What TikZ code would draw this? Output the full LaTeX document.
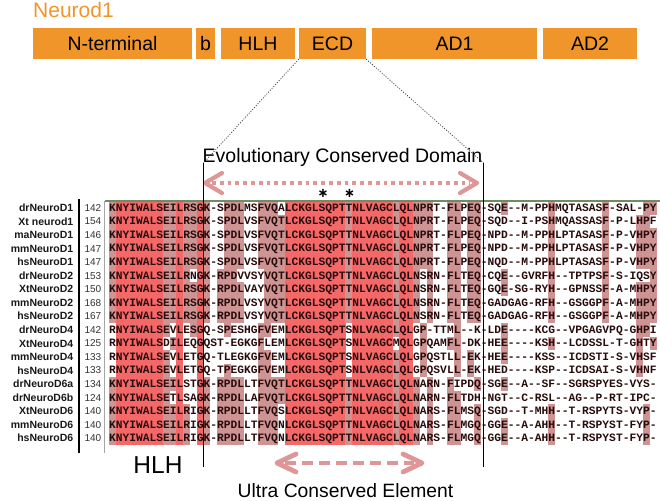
\documentclass[tikz,border=0pt]{standalone}
\usepackage{fontspec}
\setmainfont{Liberation Sans}
\setmonofont{Liberation Mono}
\newfontfamily\symfont{DejaVu Sans}
\definecolor{orangebox}{RGB}{240,149,42}
\definecolor{alred}{RGB}{245,104,104}
\definecolor{alrose}{RGB}{206,148,148}
\definecolor{arrpink}{RGB}{222,150,150}
\definecolor{gridgreen}{RGB}{110,140,100}
\definecolor{seqink}{RGB}{40,12,12}

\ExplSyntaxOn
\int_new:N \l__al_cnt_int
\tl_new:N \l__al_a_tl
\tl_new:N \l__al_b_tl
\tl_new:N \l__al_x_tl
\tl_new:N \l__al_y_tl
\cs_new_protected:Npn \alDefRow #1#2 { \tl_const:cn { c__al_row_#1_tl } {#2} }
\cs_new_protected:Npn \alShow #1 { \tl_map_inline:cn { c__al_row_#1_tl } { ##1 \kern 0pt } }
\cs_new_protected:Npn \__al_fill:nnn #1#2#3
  {
    \tl_set:Nx \l__al_x_tl { \fp_eval:n { 108.8 + (#2 - 1) * 6.76 } }
    \tl_set:Nx \l__al_y_tl { \fp_eval:n { 201 + (#1 - 1) * 13.55 } }
    \fill [#3] (\l__al_x_tl, \l__al_y_tl) rectangle ++ (6.96, 13.75) ;
  }
\cs_new_protected:Npn \__al_cell:nn #1#2
  {
    \tl_set:Nx \l__al_a_tl { \tl_item:cn { c__al_row_#1_tl } {#2} }
    \str_if_eq:VnF \l__al_a_tl { - }
      {
        \int_zero:N \l__al_cnt_int
        \int_step_inline:nn {18}
          {
            \tl_set:Nx \l__al_b_tl { \tl_item:cn { c__al_row_##1_tl } {#2} }
            \tl_if_eq:NNT \l__al_a_tl \l__al_b_tl { \int_incr:N \l__al_cnt_int }
          }
        \int_compare:nNnTF \l__al_cnt_int = {18}
          { \__al_fill:nnn {#1} {#2} {alred} }
          { \int_compare:nNnT \l__al_cnt_int > {8} { \__al_fill:nnn {#1} {#2} {alrose} } }
      }
  }
\cs_new_protected:Npn \alShade
  {
    \int_step_inline:nn {18}
      { \int_step_inline:nn {81} { \__al_cell:nn {##1} {####1} } }
  }
\ExplSyntaxOff

\alDefRow{1}{KNYIWALSEILRSGK-SPDLMSFVQALCKGLSQPTTNLVAGCLQLNPRT-FLPEQ-SQE--M-PPHMQTASASF-SAL-PY}
\alDefRow{2}{KNYIWALSEILRSGK-SPDLVSFVQTLCKGLSQPTTNLVAGCLQLNPRT-FLPEQ-SQD--I-PSHMQASSASF-P-LHPF}
\alDefRow{3}{KNYIWALSEILRSGK-SPDLVSFVQTLCKGLSQPTTNLVAGCLQLNPRT-FLPEQ-NPD--M-PPHLPTASASF-P-VHPY}
\alDefRow{4}{KNYIWALSEILRSGK-SPDLVSFVQTLCKGLSQPTTNLVAGCLQLNPRT-FLPEQ-NPD--M-PPHLPTASASF-P-VHPY}
\alDefRow{5}{KNYIWALSEILRSGK-SPDLVSFVQTLCKGLSQPTTNLVAGCLQLNPRT-FLPEQ-NQD--M-PPHLPTASASF-P-VHPY}
\alDefRow{6}{KNYIWALSEILRNGK-RPDVVSYVQTLCKGLSQPTTNLVAGCLQLNSRN-FLTEQ-CQE--GVRFH--TPTPSF-S-IQSY}
\alDefRow{7}{KNYIWALSEILRSGK-RPDLVAYVQTLCKGLSQPTTNLVAGCLQLNSRN-FLTEQ-GQE-SG-RYH--GPNSSF-A-MHPY}
\alDefRow{8}{KNYIWALSEILRSGK-RPDLVSYVQTLCKGLSQPTTNLVAGCLQLNSRN-FLTEQ-GADGAG-RFH--GSGGPF-A-MHPY}
\alDefRow{9}{KNYIWALSEILRSGK-RPDLVSYVQTLCKGLSQPTTNLVAGCLQLNSRN-FLTEQ-GADGAG-RFH--GSGGPF-A-MHPY}
\alDefRow{10}{RNYIWALSEVLESGQ-SPESHGFVEMLCKGLSQPTSNLVAGCLQLGP-TTML--K-LDE----KCG--VPGAGVPQ-GHPI}
\alDefRow{11}{RNYIWALSDILEQGQST-EGKGFLEMLCKGLSQPTSNLVAGCMQLGPQAMFL-DK-HEE----KSH--LCDSSL-T-GHTY}
\alDefRow{12}{RNYIWALSEVLETGQ-TLEGKGFVEMLCKGLSQPTSNLVAGCLQLGPQSTLL-EK-HEE----KSS--ICDSTI-S-VHSF}
\alDefRow{13}{RNYIWALSEVLETGQ-TPEGKGFVEMLCKGLSQPTSNLVAGCLQLGPQSVLL-EK-HED----KSP--ICDSAI-S-VHNF}
\alDefRow{14}{KNYIWALSEILSTGK-RPDLLTFVQTLCKGLSQPTTNLVAGCLQLNARN-FIPDQ-SGE--A--SF--SGRSPYES-VYS-}
\alDefRow{15}{KNYIWALSETLSAGK-RPDLLAFVQTLCKGLSQPTTNLVAGCLQLNARN-FLTDH-NGT--C-RSL--AG--P-RT-IPC-}
\alDefRow{16}{KNYIWALSEILRIGK-RPDLLTFVQSLCKGLSQPTTNLVAGCLQLNARS-FLMSQ-SGD--T-MHH--T-RSPYTS-VYP-}
\alDefRow{17}{KNYIWALSEILRIGK-RPDLLTFVQNLCKGLSQPTTNLVAGCLQLNARS-FLMGQ-GGE--A-AHH--T-RSPYST-FYP-}
\alDefRow{18}{KNYIWALSEILRIGK-RPDLLTFVQNLCKGLSQPTTNLVAGCLQLNARS-FLMGQ-GGE--A-AHH--T-RSPYST-FYP-}

\tikzset{
  dombox/.style={fill=orangebox, draw=none, minimum height=31pt, inner sep=0pt,
    font=\fontsize{19.5}{22}\selectfont, text=black},
  namelbl/.style={anchor=east, inner sep=0pt, font=\bfseries\fontsize{10.5}{12}\selectfont,
    text height=7.5pt, text depth=0pt, text=black!90},
  numlbl/.style={anchor=east, inner sep=0pt, font=\fontsize{10}{12}\selectfont,
    text height=7.2pt, text depth=0pt, text=black!80},
  seqtxt/.style={anchor=west, inner sep=0pt, font=\ttfamily\bfseries\fontsize{11.2667}{13}\selectfont,
    text height=7.1pt, text depth=0pt, text=seqink},
  biglbl/.style={anchor=base, inner sep=0pt, text=black},
  dotline/.style={draw=black!75, line width=0.8pt, dash pattern=on 1pt off 1.6pt},
  blackline/.style={draw=black, line width=1.2pt},
  pinkdots/.style={draw=arrpink, line width=3.8pt, dash pattern=on 3.8pt off 4pt},
  pinkdash/.style={draw=arrpink, line width=4.6pt, dash pattern=on 11pt off 6pt},
  pinkhead/.style={draw=arrpink, line width=4.2pt, line join=round, line cap=round},
  star/.style={anchor=base, inner sep=0pt, font=\symfont\bfseries\fontsize{13}{13}\selectfont, text=black}
}

\begin{document}
\begin{tikzpicture}[x=1pt,y=-1pt]
\useasboundingbox (0,0) rectangle (660,500);
\fill[white] (0,0) rectangle (660,500);

% title and domain bar
\node[anchor=base west, inner sep=0pt, text=orangebox, font=\fontsize{21}{24}\selectfont] (title) at (33,18) {Neurod1};
\node[dombox, minimum width=159pt] (nterm) at (112.5,43.5) {N-terminal};
\node[dombox, minimum width=19pt] (bdom) at (205.5,43.5) {b};
\node[dombox, minimum width=74pt] (hlhdom) at (258,43.5) {HLH};
\node[dombox, minimum width=67pt] (ecd) at (332.5,43.5) {ECD};
\node[dombox, minimum width=165pt] (ad1) at (454.5,43.5) {AD1};
\node[dombox, minimum width=94pt] (ad2) at (590,43.5) {AD2};

% zoom lines and bracket
\coordinate (lt) at (203.5,163);
\coordinate (lb) at (203.5,467);
\coordinate (rt) at (483.5,163);
\coordinate (rb) at (483.5,467);
\draw[dotline] (ecd.south west) -- (lt);
\draw[dotline] (ecd.south east) -- (rt);
\node[biglbl, font=\fontsize{19.5}{22}\selectfont] (ecdtitle) at (342.5,162.5) {Evolutionary Conserved Domain};

% top arrow
\coordinate (ta1) at (205,183);
\coordinate (ta2) at (477,183);
\draw[pinkdots] ([xshift=7pt]ta1) -- ([xshift=-7pt]ta2);
\draw[pinkhead] ([shift={(17,-10)}]ta1) -- (ta1) -- ([shift={(17,10)}]ta1);
\draw[pinkhead] ([shift={(-17,-10)}]ta2) -- (ta2) -- ([shift={(-17,10)}]ta2);

% asterisks
\node[star] (st1) at (323,197.3) {∗};
\node[star] (st2) at (349.5,197.3) {∗};

% alignment shading
\alShade

% frame lines
\coordinate (g1) at (104.5,201);
\coordinate (g2) at (660,201);
\coordinate (g3) at (104.5,453);
\draw[gridgreen, line width=1.5pt] (g1) -- (g2);
\draw[black!35, line width=1pt] (g1) -- (g3);
\coordinate (k1) at (79,199);
\coordinate (k2) at (79,453);
\draw[black, line width=1.1pt] (k1) -- (k2);

% names, numbers, sequences
\foreach \i/\nm/\num in {1/drNeuroD1/142, 2/Xt neurod1/154, 3/maNeuroD1/146, 4/mmNeuroD1/147,
  5/hsNeuroD1/147, 6/drNeuroD2/153, 7/XtNeuroD2/150, 8/mmNeuroD2/168, 9/hsNeuroD2/167,
  10/drNeuroD4/142, 11/XtNeuroD4/125, 12/mmNeuroD4/133, 13/hsNeuroD4/133, 14/drNeuroD6a/134,
  15/drNeuroD6b/124, 16/XtNeuroD6/140, 17/mmNeuroD6/140, 18/hsNeuroD6/140}{
  \node[namelbl] (n\i) at (73.5,{207.78+(\i-1)*13.55}) {\nm};
  \node[numlbl] (num\i) at (101.5,{207.78+(\i-1)*13.55}) {\num};
  \node[seqtxt] (s\i) at (108.8,{207.78+(\i-1)*13.55}) {\alShow{\i}};
}

% bracket lines
\draw[blackline] (lt) -- (lb);
\draw[blackline] (rt) -- (rb);

% bottom arrow and labels
\coordinate (ba1) at (277,463);
\coordinate (ba2) at (422,463);
\draw[pinkdash] ([xshift=8pt]ba1) -- ([xshift=-8pt]ba2);
\draw[pinkhead, line width=4.8pt] ([shift={(19,-9)}]ba1) -- (ba1) -- ([shift={(19,9)}]ba1);
\draw[pinkhead, line width=4.8pt] ([shift={(-19,-9)}]ba2) -- (ba2) -- ([shift={(-19,9)}]ba2);
\node[biglbl, font=\fontsize{24.5}{28}\selectfont] (hlhlbl) at (158,473) {HLH};
\node[biglbl, font=\fontsize{19.3}{22}\selectfont] (ucelbl) at (345.5,497) {Ultra Conserved Element};
\end{tikzpicture}
\end{document}
